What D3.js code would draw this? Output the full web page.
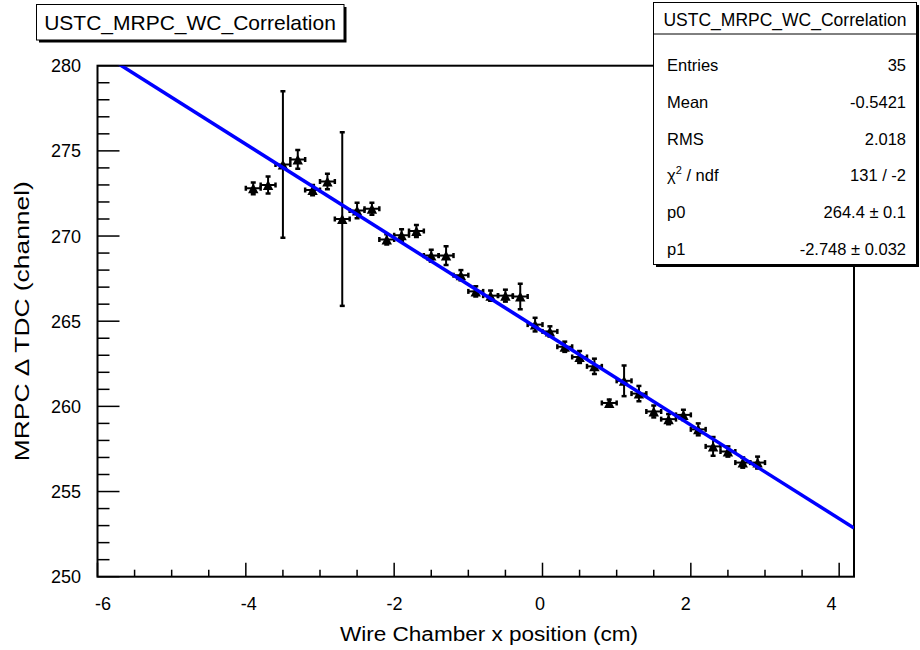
<!DOCTYPE html>
<html>
<head>
<meta charset="utf-8">
<script src="https://cdn.jsdelivr.net/npm/d3@7"></script>
<style>
  html, body { margin: 0; padding: 0; background: #fff; }
  svg { display: block; }
  text { font-family: "Liberation Sans", Arial, Helvetica, sans-serif; fill: #000; }
</style>
</head>
<body>
<svg id="chart" width="920" height="650"></svg>
<script>
// ---------------- data ----------------
const xVals = [-3.9, -3.7, -3.5, -3.3, -3.1, -2.9, -2.7, -2.5, -2.3, -2.1, -1.9, -1.7, -1.5, -1.3, -1.1, -0.9, -0.7, -0.5, -0.3, -0.1,
               0.1, 0.3, 0.5, 0.7, 0.9, 1.1, 1.3, 1.5, 1.7, 1.9, 2.1, 2.3, 2.5, 2.7, 2.9];
const yVals = [272.8, 273.0, 274.2, 274.5, 272.7, 273.2, 271.0, 271.5, 271.6, 269.8, 270.05, 270.3, 268.85, 268.85, 267.7, 266.75, 266.5, 266.5, 266.45, 264.8,
               264.4, 263.5, 262.9, 262.35, 260.2, 261.5, 260.75, 259.7, 259.25, 259.5, 258.65, 257.65, 257.35, 256.7, 256.7];
const yErrs = [0.35, 0.5, 4.3, 0.55, 0.3, 0.45, 5.1, 0.45, 0.35, 0.3, 0.35, 0.35, 0.35, 0.55, 0.3, 0.3, 0.3, 0.35, 0.75, 0.4,
               0.3, 0.3, 0.35, 0.45, 0.2, 0.9, 0.45, 0.35, 0.3, 0.3, 0.35, 0.55, 0.3, 0.3, 0.35];
const xErrs = xVals.map(() => 0.1);

const fitP0 = 264.4;
const fitP1 = -2.748;
const fitRange = [-6, 4.2];

const xMajorTicks = [-6, -4, -2, 0, 2, 4];
const xTickLabels = ["-6", "-4", "-2", "0", "2", "4"];
const yMajorTicks = [250, 255, 260, 265, 270, 275, 280];
const yTickLabels = ["250", "255", "260", "265", "270", "275", "280"];

const chartTitle = "USTC_MRPC_WC_Correlation";
const xTitle = "Wire Chamber x position (cm)";
const yTitle = "MRPC \u0394 TDC (channel)";

const statLabels = ["Entries", "Mean", "RMS", "chi2", "p0", "p1"];
const statValues = ["35", "-0.5421", "2.018", "131 / -2", "264.4 \u00b1 0.1", "-2.748 \u00b1 0.032"];

// ---------------- layout ----------------
const svg = d3.select("#chart");
const frame = { left: 97.5, right: 854, top: 65.7, bottom: 576.7 };

const x = d3.scaleLinear().domain([-6, 4.2]).range([frame.left, frame.right]);
const y = d3.scaleLinear().domain([250, 280]).range([frame.bottom, frame.top]);
// tick labels sit slightly inward of their ticks in the reference rendering
const xLab = d3.scaleLinear().domain([-6, 4]).range([103, 831.5]);

svg.append("defs").append("clipPath").attr("id", "frameClip")
  .append("rect").attr("x", frame.left).attr("y", frame.top)
  .attr("width", frame.right - frame.left).attr("height", frame.bottom - frame.top);

// frame
svg.append("rect")
  .attr("x", frame.left).attr("y", frame.top)
  .attr("width", frame.right - frame.left).attr("height", frame.bottom - frame.top)
  .attr("fill", "none").attr("stroke", "#000").attr("stroke-width", 2);

// x axis ticks
const xMinor = d3.range(-6, 4.2001, 0.5);
const gx = svg.append("g");
gx.selectAll("line").data(xMinor).join("line")
  .attr("x1", d => x(d)).attr("x2", d => x(d))
  .attr("y1", frame.bottom).attr("y2", d => frame.bottom - (xMajorTicks.includes(Math.round(d * 10) / 10) ? 14 : 7))
  .attr("stroke", "#000").attr("stroke-width", 1.5);
gx.selectAll("text").data(xMajorTicks).join("text")
  .attr("x", d => xLab(d)).attr("y", 610)
  .attr("text-anchor", "middle").attr("font-size", 18)
  .text((d, i) => xTickLabels[i]);

// y axis ticks
const yMinor = d3.range(250, 280.001, 1);
const gy = svg.append("g");
gy.selectAll("line").data(yMinor).join("line")
  .attr("x1", frame.left).attr("x2", d => frame.left + (d % 5 === 0 ? 22 : 12))
  .attr("y1", d => y(d)).attr("y2", d => y(d))
  .attr("stroke", "#000").attr("stroke-width", 1.5);
gy.selectAll("text").data(yMajorTicks).join("text")
  .attr("x", 81).attr("y", d => y(d) + 6.5)
  .attr("text-anchor", "end").attr("font-size", 18)
  .text((d, i) => yTickLabels[i]);

// axis titles
svg.append("text")
  .attr("x", 489).attr("y", 641)
  .attr("text-anchor", "middle").attr("font-size", 20)
  .attr("textLength", 298).attr("lengthAdjust", "spacingAndGlyphs")
  .text(xTitle);
svg.append("text")
  .attr("transform", `translate(29, ${(frame.top + frame.bottom) / 2}) rotate(-90)`)
  .attr("text-anchor", "middle").attr("font-size", 20)
  .attr("textLength", 280).attr("lengthAdjust", "spacingAndGlyphs")
  .text(yTitle);

// data points
const pts = xVals.map((xv, i) => ({ x: xv, y: yVals[i], ex: xErrs[i], ey: yErrs[i] }));
const gp = svg.append("g").attr("clip-path", "url(#frameClip)");
const cap = 2.5;
gp.selectAll("line.xe").data(pts).join("line").attr("class", "xe")
  .attr("x1", d => x(d.x - d.ex)).attr("x2", d => x(d.x + d.ex))
  .attr("y1", d => y(d.y)).attr("y2", d => y(d.y))
  .attr("stroke", "#000").attr("stroke-width", 2);
gp.selectAll("line.xcl").data(pts).join("line").attr("class", "xcl")
  .attr("x1", d => x(d.x - d.ex)).attr("x2", d => x(d.x - d.ex))
  .attr("y1", d => y(d.y) - cap).attr("y2", d => y(d.y) + cap)
  .attr("stroke", "#000").attr("stroke-width", 2.5);
gp.selectAll("line.xcr").data(pts).join("line").attr("class", "xcr")
  .attr("x1", d => x(d.x + d.ex)).attr("x2", d => x(d.x + d.ex))
  .attr("y1", d => y(d.y) - cap).attr("y2", d => y(d.y) + cap)
  .attr("stroke", "#000").attr("stroke-width", 2.5);
gp.selectAll("line.ye").data(pts).join("line").attr("class", "ye")
  .attr("x1", d => x(d.x)).attr("x2", d => x(d.x))
  .attr("y1", d => y(d.y - d.ey)).attr("y2", d => y(d.y + d.ey))
  .attr("stroke", "#000").attr("stroke-width", 2);
gp.selectAll("line.yct").data(pts).join("line").attr("class", "yct")
  .attr("x1", d => x(d.x) - cap).attr("x2", d => x(d.x) + cap)
  .attr("y1", d => y(d.y + d.ey)).attr("y2", d => y(d.y + d.ey))
  .attr("stroke", "#000").attr("stroke-width", 2.5);
gp.selectAll("line.ycb").data(pts).join("line").attr("class", "ycb")
  .attr("x1", d => x(d.x) - cap).attr("x2", d => x(d.x) + cap)
  .attr("y1", d => y(d.y - d.ey)).attr("y2", d => y(d.y - d.ey))
  .attr("stroke", "#000").attr("stroke-width", 2.5);
const tw = 5.2, th = 5;
gp.selectAll("path.mk").data(pts).join("path").attr("class", "mk")
  .attr("d", d => {
    const cx = x(d.x), cy = y(d.y);
    return `M${cx - tw},${cy + th}L${cx + tw},${cy + th}L${cx},${cy - th}Z`;
  })
  .attr("fill", "#000");

// fit line
svg.append("g").attr("clip-path", "url(#frameClip)")
  .append("line")
  .attr("x1", x(fitRange[0])).attr("y1", y(fitP0 + fitP1 * fitRange[0]))
  .attr("x2", x(fitRange[1])).attr("y2", y(fitP0 + fitP1 * fitRange[1]))
  .attr("stroke", "#0000ff").attr("stroke-width", 3.5);

// boxes
function shadowBox(x0, y0, w, h) {
  svg.append("rect").attr("x", x0 + 2.5).attr("y", y0 + 2.5).attr("width", w).attr("height", h).attr("fill", "#000");
  svg.append("rect").attr("x", x0).attr("y", y0).attr("width", w).attr("height", h)
    .attr("fill", "#fff").attr("stroke", "#000").attr("stroke-width", 1);
}
shadowBox(36.5, 4.5, 307.5, 35.5);
svg.append("text").attr("x", 190).attr("y", 30).attr("text-anchor", "middle")
  .attr("font-size", 21).text(chartTitle);

const sb = { x: 653.5, y: 2.5, w: 263, h: 262 };
shadowBox(sb.x, sb.y, sb.w, sb.h);
svg.append("line").attr("x1", sb.x).attr("x2", sb.x + sb.w).attr("y1", 34).attr("y2", 34)
  .attr("stroke", "#000").attr("stroke-width", 1);
svg.append("text").attr("x", sb.x + sb.w / 2).attr("y", 26).attr("text-anchor", "middle")
  .attr("font-size", 17.5).text(chartTitle);
const rowY = [65, 102, 138.5, 175, 212, 248.5];
statLabels.forEach((lab, i) => {
  const t = svg.append("text").attr("x", 667).attr("y", rowY[i] + 6).attr("font-size", 16.5);
  if (lab === "chi2") {
    t.append("tspan").text("\u03c7");
    t.append("tspan").attr("font-size", 11).attr("dy", -7).text("2");
    t.append("tspan").attr("dy", 7).text(" / ndf");
  } else {
    t.text(lab);
  }
  svg.append("text").attr("x", 906).attr("y", rowY[i] + 6).attr("text-anchor", "end")
    .attr("font-size", 16.5).text(statValues[i]);
});
</script>
</body>
</html>
